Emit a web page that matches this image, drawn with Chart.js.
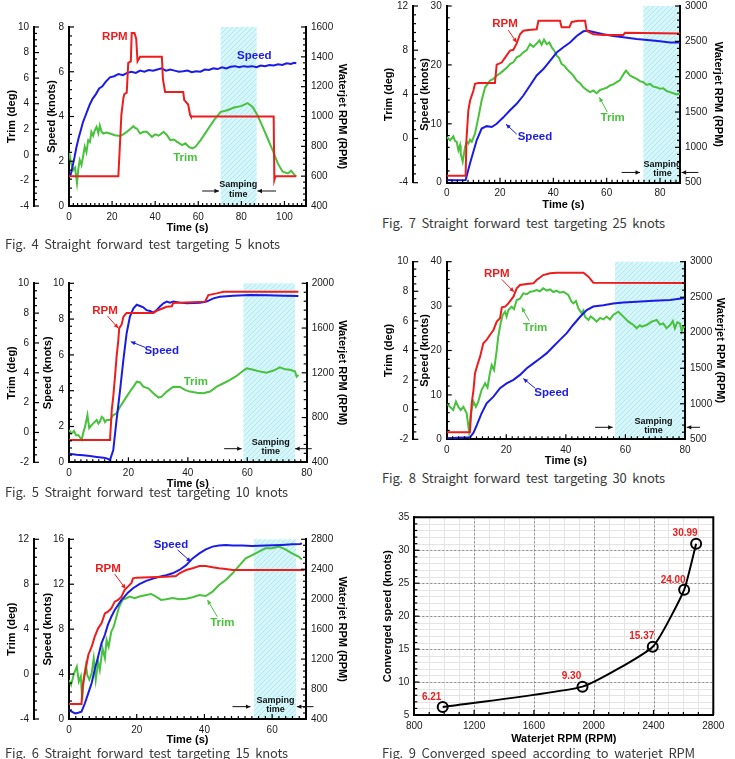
<!DOCTYPE html>
<html>
<head>
<meta charset="utf-8">
<script src="https://cdn.jsdelivr.net/npm/chart.js@4.4.1/dist/chart.umd.min.js"></script>
<style>
  body { margin: 0; background: #fff; width: 735px; height: 759px; overflow: hidden; position: relative; }
  canvas { position: absolute; }
  .cap { position: absolute; font-family: "Noto Sans CJK KR", "Noto Sans", sans-serif; font-size: 13px; color: #3a3a3a;
         white-space: nowrap; line-height: 16px; word-spacing: 3px; }
</style>
</head>
<body>
<script>
// ---------- data: [time (s), value] ----------
// Fig. 4  (target 5 knots)
const fig4Rpm = [[0,600],[22.9,600],[23.6,800],[24.3,1010],[25.3,1130],[25.7,1150],[26.8,1160],[27.5,1360],[28.7,1370],[29.1,1560],[30.4,1560],[31.2,1520],[31.8,1370],[33.0,1400],[43.1,1400],[43.6,1250],[44.6,1165],[53.0,1165],[53.5,1110],[55.3,1080],[56.2,1010],[56.6,1000],[95.0,1000],[95.3,575],[95.8,600],[105.5,600]];
const fig4Speed = [[0,1.3],[0.8,1.4],[1.6,1.75],[2.5,2.15],[3.4,2.6],[4.5,3.05],[5.5,3.4],[6.5,3.75],[7.5,4.0],[8.5,4.25],[9.7,4.55],[11,4.8],[12.5,5.0],[14,5.25],[15.5,5.35],[17,5.55],[19,5.75],[21,5.8],[23,5.9],[25,5.85],[27,5.95],[29,6.0],[31,5.95],[33,6.05],[35,6.0],[37,6.08],[39,6.05],[41,6.1],[43,6.15],[45,6.05],[47,6.1],[49,6.05],[51,6.0],[53,6.02],[55,6.05],[57,5.98],[59,6.02],[61,6.0],[63,6.1],[65,6.08],[67,6.15],[69,6.12],[71,6.2],[73,6.15],[75,6.22],[77,6.25],[79,6.2],[81,6.25],[83,6.22],[85,6.25],[87,6.2],[89,6.28],[91,6.25],[93,6.3],[95,6.28],[97,6.33],[99,6.3],[101,6.38],[103,6.35],[104.5,6.4],[105.5,6.38]];
const fig4Trim = [[0,0.24],[0.9,-0.6],[1.9,-1.2],[2.8,-1.0],[3.7,-2.2],[4.4,-1.0],[5.0,-0.4],[5.8,-0.8],[6.5,-0.15],[7.3,0.63],[8.1,0.2],[8.9,1.15],[9.7,1.0],[10.4,1.8],[11.2,1.5],[12.0,1.93],[12.8,2.19],[13.6,1.7],[14.3,2.3],[15.1,1.8],[15.9,1.67],[17.4,1.75],[19.0,1.67],[21.3,1.54],[23.7,1.47],[25.2,1.6],[26.8,1.8],[28.3,2.0],[29.9,2.24],[30.7,2.1],[31.5,2.06],[33.0,1.67],[34.6,1.8],[36.1,1.8],[38.5,1.41],[40.0,1.6],[41.6,1.5],[43.9,1.8],[45.5,1.54],[47.0,1.15],[48.6,1.2],[50.2,1.02],[52.5,0.76],[54.0,0.9],[55.6,0.63],[57.2,0.5],[58.7,0.63],[61.1,1.15],[64.2,1.93],[67.3,2.71],[70.4,3.36],[73.5,3.49],[76.6,3.7],[79.8,3.81],[82.9,4.05],[85.2,3.75],[87.5,3.1],[89.9,2.19],[92.2,1.28],[94.5,0.37],[96.9,-0.67],[99.2,-1.32],[101.6,-1.45],[103.1,-1.24],[104.7,-1.58],[105.5,-1.66]];

// Fig. 7  (target 25 knots)
const fig7Rpm = [[0,600],[7.1,600],[7.4,1100],[8.1,1520],[8.75,1660],[10,1800],[10.6,1900],[11.9,1910],[18.1,1910],[18.75,2170],[20.6,2200],[21.9,2270],[23.75,2370],[25,2380],[26.25,2470],[27.5,2600],[28.75,2650],[30.6,2660],[33.75,2670],[34.4,2790],[42.5,2790],[43.1,2700],[46,2700],[46.9,2775],[49.4,2790],[51.9,2790],[52.5,2650],[55,2600],[58.75,2590],[66.25,2590],[66.9,2620],[87.5,2610]];
const fig7Speed = [[0,0.45],[3,0.4],[7.1,0.45],[8.75,3.3],[11.25,7.2],[13.1,9.2],[15,9.6],[16.9,9.45],[18.75,10.0],[21.25,11.1],[23.75,12.3],[26.25,13.4],[28.75,14.8],[31.25,16.5],[33.75,18.2],[36.25,19.3],[38.75,20.7],[41.25,22.1],[43.75,23.0],[46.25,23.8],[48.75,24.9],[51.25,25.7],[53.1,25.8],[55,25.6],[58.75,25.2],[62.5,24.9],[66.25,24.7],[71.25,24.4],[76.25,24.2],[80,24.0],[83.75,23.8],[87.5,23.8]];
const fig7Trim = [[0,0.14],[1.25,-0.16],[2.5,0.2],[3.1,-0.2],[3.75,-0.3],[4.4,-1.06],[5,-0.6],[5.25,-1.36],[6,-2.1],[6.9,-0.76],[7.5,-0.3],[8.1,-0.46],[8.75,-0.1],[9.4,-0.3],[10.6,0.44],[11.9,1.94],[13.1,3.44],[14.4,4.64],[15.25,4.9],[16.25,5.25],[17.5,5.4],[18.75,5.7],[20,5.9],[21.25,6.15],[22.5,6.4],[23.75,6.75],[25,6.9],[26.25,7.35],[27.5,7.5],[28.75,7.8],[30,8.0],[31.25,8.55],[32.5,8.3],[33.75,8.6],[34.75,8.9],[35.6,8.5],[36.5,8.95],[37.5,8.55],[38.5,8.7],[39.4,8.25],[40.25,8.0],[41.25,7.5],[42.1,7.3],[43.1,6.75],[44.1,6.6],[45,6.3],[46.25,6.0],[47.5,5.7],[48.75,5.25],[50,5.0],[51.25,4.64],[52.5,4.4],[53.75,4.2],[55,4.35],[56.25,4.1],[57.5,4.4],[58.75,4.5],[60,4.6],[61.25,4.8],[62.5,4.9],[63.75,5.1],[65,5.3],[65.6,5.55],[66.5,5.9],[67.25,6.15],[68.1,5.9],[68.75,5.7],[70,5.55],[71.25,5.4],[72.5,5.2],[73.75,5.1],[75,4.85],[76.25,4.95],[77.5,4.7],[78.75,4.64],[80,4.5],[81.25,4.55],[82.5,4.3],[83.75,4.2],[85,4.1],[86.25,4.0],[87.5,4.05]];

// Fig. 5  (target 10 knots)
const fig5Rpm = [[0,600],[13.8,600],[14.4,870],[14.9,990],[15.5,1170],[16.0,1340],[16.6,1490],[16.9,1600],[17.7,1630],[18.3,1700],[18.85,1720],[19.4,1735],[28.4,1735],[29.5,1755],[32.9,1790],[34.6,1795],[35.1,1825],[45.8,1836],[46.9,1895],[49.7,1910],[52.0,1925],[77.2,1925]];
const fig5Speed = [[0,0.48],[2.6,0.42],[4.8,0.4],[7.1,0.35],[9.3,0.3],[11.6,0.25],[12.7,0.22],[13.8,0.13],[14.9,0.69],[16.0,2.36],[17.2,4.04],[18.3,5.72],[19.4,7.21],[20.5,8.14],[21.7,8.6],[22.8,8.8],[23.9,8.73],[25.0,8.66],[26.1,8.5],[27.3,8.45],[28.4,8.36],[29.5,8.5],[30.6,8.7],[31.8,8.88],[32.9,8.98],[34.0,8.92],[35.1,8.98],[37.4,8.92],[39.6,8.88],[41.9,8.9],[44.1,8.92],[46.3,8.98],[48.6,9.16],[50.8,9.25],[55.3,9.31],[60.9,9.35],[66.5,9.33],[72.1,9.31],[77.2,9.29]];
const fig5Trim = [[0,0.17],[0.9,-0.06],[1.7,0.1],[2.4,-0.2],[3.1,-0.17],[4.3,-0.5],[4.8,0.0],[5.4,0.39],[6.2,1.17],[6.8,0.3],[7.6,0.5],[8.2,0.61],[9.3,0.84],[9.9,0.6],[10.4,0.73],[11.0,1.05],[11.6,0.95],[12.1,0.7],[12.7,0.84],[13.8,0.84],[14.9,1.17],[16.0,1.28],[17.2,1.73],[18.3,2.07],[19.4,2.4],[20.5,2.74],[21.7,3.07],[22.8,3.4],[23.9,3.35],[25.0,3.07],[26.7,2.96],[28.4,2.63],[30.1,2.34],[31.2,2.4],[32.9,2.74],[35.1,3.07],[37.4,3.05],[39.0,2.85],[40.7,2.74],[43.0,2.67],[45.2,2.63],[47.5,2.74],[49.7,3.07],[52.0,3.3],[54.2,3.52],[56.4,3.79],[58.7,4.15],[59.8,4.3],[62.0,4.2],[64.3,4.08],[66.5,4.01],[68.8,4.15],[71.0,4.37],[72.7,4.23],[74.4,4.2],[76.1,4.08],[76.6,3.74],[77.2,3.85]];

// Fig. 8  (target 30 knots)
const fig8Rpm = [[0,600],[7.8,600],[8.4,1007],[9.0,1194],[9.5,1429],[10.3,1546],[11.2,1663],[12.3,1851],[13.4,1898],[14.5,1968],[15.7,2039],[16.8,2156],[17.9,2203],[18.5,2357],[19.6,2367],[20.7,2414],[22.4,2508],[23.5,2625],[24.6,2672],[26.9,2686],[29.1,2695],[30.2,2742],[32.4,2812],[34.7,2836],[36.9,2845],[45.9,2845],[47.6,2789],[49.2,2705],[80,2700]];
const fig8Speed = [[0,0.23],[7.8,0.45],[9.0,1.5],[10.1,3.2],[11.7,5.85],[13.4,8.1],[15.7,9.6],[17.9,11.5],[20.1,12.6],[22.4,13.4],[24.6,14.5],[26.9,16.0],[29.1,17.1],[31.3,18.2],[33.6,19.4],[35.8,20.9],[38.0,22.4],[40.3,23.9],[42.5,25.8],[44.8,27.6],[47.0,29.1],[49.2,29.9],[52.6,30.2],[55.9,30.6],[59.3,30.8],[63.8,31.0],[69.4,31.2],[75.0,31.4],[80,31.8]];
const fig8Trim = [[0,0.43],[1.1,0.2],[2.2,-0.02],[3.1,0.55],[3.9,0.2],[4.7,-0.02],[5.6,0.2],[6.7,-0.24],[7.5,-1.48],[8.1,-0.24],[9.0,0.55],[9.8,0.2],[10.6,0.55],[11.7,1.33],[12.9,1.78],[13.7,1.5],[14.5,2.46],[15.1,3.02],[15.9,2.68],[16.8,4.03],[17.3,4.93],[18.1,5.84],[18.8,6.4],[19.6,6.62],[20.1,6.3],[20.7,6.74],[21.8,6.96],[22.6,6.8],[23.5,7.41],[24.6,7.5],[25.7,7.86],[26.9,7.8],[28.0,7.97],[29.1,8.0],[30.2,8.09],[31.3,8.0],[32.4,8.2],[33.6,8.05],[34.7,8.13],[35.8,7.95],[36.9,8.04],[38.0,7.9],[39.2,7.97],[40.8,7.75],[41.9,7.3],[42.5,7.19],[43.4,7.35],[44.2,6.85],[45.3,6.51],[45.9,6.7],[46.4,6.29],[47.6,6.06],[48.3,6.3],[49.2,6.17],[50.3,5.95],[51.5,6.2],[52.6,6.1],[53.7,6.29],[54.8,6.1],[55.9,6.4],[57.6,6.62],[59.3,6.29],[61.0,5.95],[62.7,5.72],[63.8,5.5],[64.8,5.7],[65.5,5.61],[67.1,5.72],[68.8,5.95],[70.5,6.06],[71.6,5.75],[72.7,5.83],[73.8,5.5],[75.0,5.72],[75.9,6.0],[76.6,5.5],[77.4,5.9],[78.3,5.83],[78.9,5.3],[79.4,5.6],[80,5.6]];

// Fig. 6  (target 15 knots)
const fig6Rpm = [[0,600],[3.7,600],[4.0,832],[4.7,1010],[5.7,1255],[6.7,1366],[7.6,1500],[8.6,1611],[9.6,1678],[10.6,1811],[11.5,1834],[12.5,1878],[13.5,1967],[14.5,1990],[15.5,2034],[16.4,2123],[17.4,2168],[18.4,2212],[18.9,2279],[19.9,2288],[23.8,2292],[28.7,2301],[31.6,2310],[32.6,2346],[34.6,2390],[36.5,2413],[38.5,2444],[40.4,2444],[42.4,2426],[44.3,2413],[46.3,2404],[48.3,2390],[69.6,2390]];
const fig6Speed = [[0,0.8],[0.8,0.65],[1.8,0.5],[2.7,0.55],[3.7,0.65],[4.7,1.4],[5.7,2.3],[6.7,3.2],[7.6,4.4],[8.6,5.55],[9.6,6.74],[10.6,7.5],[11.5,8.4],[12.5,9.1],[13.5,9.7],[14.5,10.15],[15.5,10.6],[16.4,10.9],[17.4,11.25],[18.9,11.64],[20.8,12.0],[22.8,12.3],[24.8,12.5],[26.7,12.67],[28.7,12.8],[30.6,12.97],[32.6,13.27],[34.6,13.7],[36.5,14.3],[38.5,14.75],[40.4,15.1],[42.4,15.35],[44.3,15.44],[46.3,15.5],[48.3,15.44],[51.2,15.45],[54.1,15.4],[58.0,15.44],[62.9,15.5],[65.9,15.55],[68.3,15.58],[68.8,15.64]];
const fig6Trim = [[0,-0.53],[0.6,-0.97],[1.5,0.07],[2.3,0.66],[2.9,-0.67],[3.5,-0.2],[3.9,-2.3],[4.4,-0.23],[5.0,0.81],[5.4,-0.1],[6.0,-0.5],[6.7,0.07],[7.3,1.4],[7.9,-0.53],[8.6,1.1],[9.1,0.36],[9.9,2.29],[10.6,1.4],[11.1,3.04],[11.7,2.44],[12.5,3.78],[13.2,4.22],[14.0,5.11],[14.8,6.0],[15.8,6.6],[16.9,6.75],[17.9,6.9],[19.4,6.75],[20.8,6.9],[22.8,7.04],[24.3,7.13],[25.7,6.9],[27.2,6.6],[28.7,6.66],[30.6,6.78],[32.6,6.66],[34.6,6.7],[36.5,6.84],[38.5,7.04],[40.4,6.95],[42.4,7.34],[44.3,7.93],[46.3,8.38],[48.3,8.97],[50.2,9.63],[52.2,10.3],[54.1,10.6],[56.1,10.9],[58.0,11.2],[60.0,11.2],[62.0,11.35],[63.9,11.1],[65.9,10.75],[67.8,10.46],[68.8,10.2]];

// Fig. 9  converged speed vs waterjet RPM
const fig9Rpm = [990, 1925, 2395, 2605, 2685];
const fig9Speed = [6.21, 9.30, 15.37, 24.00, 30.99];

// ---------- styling ----------
const RED = '#ee1d1d', BLUE = '#1b1be8', GREEN = '#48c23c';
const FONT = '"Liberation Sans", Arial, sans-serif';
const HALF_LH = 6.6; // half line height of an 11px title

const decoMap = {};

function hatchPattern(ctx) {
  const c = document.createElement('canvas');
  c.width = 5; c.height = 5;
  const g = c.getContext('2d');
  g.fillStyle = '#d6f6fa';
  g.fillRect(0, 0, 5, 5);
  g.strokeStyle = '#aee9f1';
  g.lineWidth = 1;
  g.beginPath();
  g.moveTo(-1, 6); g.lineTo(6, -1);
  g.stroke();
  return ctx.createPattern(c, 'repeat');
}

function arrow(ctx, x1, y1, x2, y2, color) {
  const a = Math.atan2(y2 - y1, x2 - x1), h = 5;
  ctx.strokeStyle = color; ctx.fillStyle = color; ctx.lineWidth = 1;
  ctx.beginPath(); ctx.moveTo(x1, y1); ctx.lineTo(x2, y2); ctx.stroke();
  ctx.beginPath();
  ctx.moveTo(x2, y2);
  ctx.lineTo(x2 - h * Math.cos(a - 0.45), y2 - h * Math.sin(a - 0.45));
  ctx.lineTo(x2 - h * Math.cos(a + 0.45), y2 - h * Math.sin(a + 0.45));
  ctx.closePath(); ctx.fill();
}

function stepLines(chart, id, step, cb) {
  const s = chart.scales[id];
  const n = Math.floor((s.max - s.min) / step + 1e-6);
  for (let i = 0; i <= n; i++) cb(s, s.min + i * step, s.getPixelForValue(s.min + i * step));
}

const deco = {
  id: 'deco',
  beforeDraw(chart) {
    const o = decoMap[chart.canvas.id];
    if (!o) return;
    const { ctx, chartArea: a, scales } = chart;
    ctx.save();
    if (o.band) {
      const x1 = scales.x.getPixelForValue(o.band[0]);
      const x2 = scales.x.getPixelForValue(o.band[1]);
      ctx.fillStyle = hatchPattern(ctx);
      ctx.fillRect(x1, a.top, x2 - x1, a.bottom - a.top);
    }
    // grid for fig 9: light minor lines, then dashed major lines
    (o.grid || []).forEach(([id, step, color, dash]) => {
      ctx.strokeStyle = color; ctx.lineWidth = 1; ctx.setLineDash(dash);
      stepLines(chart, id, step, (s, v, p) => {
        p = Math.round(p) + 0.5;
        ctx.beginPath();
        if (s.isHorizontal()) { ctx.moveTo(p, a.top); ctx.lineTo(p, a.bottom); }
        else { ctx.moveTo(a.left, p); ctx.lineTo(a.right, p); }
        ctx.stroke();
      });
    });
    ctx.restore();
  },
  afterDatasetsDraw(chart) {
    const o = decoMap[chart.canvas.id];
    if (!o) return;
    const { ctx, scales } = chart;
    const X = v => scales.x.getPixelForValue(v);
    const Y = v => scales.y.getPixelForValue(v);
    ctx.save();
    ctx.textAlign = 'center'; ctx.textBaseline = 'middle';
    (o.arrows || []).forEach(([x1, y1, x2, y2, c]) => arrow(ctx, X(x1), Y(y1), X(x2), Y(y2), c));
    ctx.font = 'bold 11.5px ' + FONT;
    (o.labels || []).forEach(([txt, x, y, c]) => { ctx.fillStyle = c; ctx.fillText(txt, X(x), Y(y)); });
    if (o.sampling) {
      const sp = o.sampling;
      ctx.fillStyle = '#111';
      ctx.font = 'bold 9px ' + FONT;
      ctx.fillText('Samping', X(sp.x), Y(sp.y1));
      ctx.fillText('time', X(sp.x), Y(sp.y2));
      arrow(ctx, X(sp.a1[0]), Y(sp.ay), X(sp.a1[1]), Y(sp.ay), '#111');
      arrow(ctx, X(sp.a2[0]), Y(sp.ay), X(sp.a2[1]), Y(sp.ay), '#111');
    }
    if (o.pointLabels) {
      ctx.fillStyle = RED;
      ctx.font = 'bold 10px ' + FONT;
      chart.getDatasetMeta(0).data.forEach((pt, i) => {
        ctx.fillText(o.pointLabels[i].toFixed(2), pt.x - 11, pt.y - 10);
      });
    }
    ctx.restore();
  },
  afterDraw(chart) {
    const o = decoMap[chart.canvas.id];
    if (!o) return;
    const { ctx, chartArea: a } = chart;
    ctx.save();
    ctx.strokeStyle = '#000'; ctx.lineWidth = 1.2;
    // inward major / minor ticks
    (o.ticks || []).forEach(([id, major, minor]) => {
      stepLines(chart, id, minor, (s, v, p) => {
        const r = v / major;
        const len = Math.abs(r - Math.round(r)) < 1e-6 ? 5 : 3;
        const pos = s.options.position;
        ctx.beginPath();
        if (pos === 'bottom') { ctx.moveTo(p, s.top); ctx.lineTo(p, s.top - len); }
        else if (pos === 'left') { ctx.moveTo(s.right, p); ctx.lineTo(s.right + len, p); }
        else { ctx.moveTo(s.left, p); ctx.lineTo(s.left - len, p); }
        ctx.stroke();
      });
    });
    if (o.frame) {
      ctx.lineWidth = 2;
      ctx.beginPath();
      ctx.moveTo(a.left, a.top); ctx.lineTo(a.right, a.top); ctx.lineTo(a.right, a.bottom);
      ctx.stroke();
    }
    ctx.restore();
  }
};
Chart.register(deco);

function addCanvas(id, lay) {
  const cv = document.createElement('canvas');
  cv.id = id;
  cv.width = lay.w; cv.height = lay.h;
  cv.style.left = lay.left + 'px';
  cv.style.top = lay.top + 'px';
  document.body.appendChild(cv);
  return cv;
}

function ticksOf(step) {
  return { stepSize: step, includeBounds: false, color: '#1a1a1a', padding: 5,
           font: { family: FONT, size: 10 }, callback: v => String(v) };
}

function titleOf(text, pad) {
  return { display: true, text, color: '#000', font: { family: FONT, size: 11, weight: 'bold' },
           padding: { top: pad, bottom: pad } };
}

const noGrid = { display: false, drawTicks: false };
const edge = { display: true, color: '#000', width: 2 };

function series(points, color, axis) {
  return { data: points.map(([x, y]) => ({ x, y })), borderColor: color, borderWidth: 2,
           pointRadius: 0, tension: 0, fill: false, yAxisID: axis };
}

// a time history panel: outer trim axis, inner speed axis, right RPM axis
function timePanel(id, lay, sc, rpm, speed, trim, o) {
  const cv = addCanvas(id, lay);
  const [L, T, R, B] = lay.area;
  decoMap[id] = Object.assign({
    ticks: [['x', sc.x[1], sc.x[2]], ['y', sc.y[2], sc.y[3]], ['trim', sc.trim[2], sc.trim[3]], ['rpm', sc.rpm[2], sc.rpm[3]]]
  }, o);
  new Chart(cv, {
    type: 'line',
    data: { datasets: [series(rpm, RED, 'rpm'), series(speed, BLUE, 'y'), series(trim, GREEN, 'trim')] },
    options: {
      responsive: false, animation: false, events: [],
      layout: { padding: { top: T - lay.top, left: 0, right: 0, bottom: 0 } },
      plugins: { legend: { display: false }, tooltip: { enabled: false } },
      scales: {
        x: { type: 'linear', position: 'bottom', min: 0, max: sc.x[0], ticks: ticksOf(sc.x[1]),
             grid: noGrid, border: edge,
             title: titleOf('Time (s)', Math.max(0, lay.top + lay.h - lay.xTitleY - HALF_LH)),
             afterFit: s => { s.height = lay.top + lay.h - B; } },
        y: { type: 'linear', position: 'left', weight: 0, min: sc.y[0], max: sc.y[1], ticks: ticksOf(sc.y[2]),
             grid: noGrid, border: edge,
             title: titleOf('Speed (knots)', lay.tx[1] - lay.trimAt - HALF_LH),
             afterFit: s => { s.width = L - lay.trimAt; } },
        trim: { type: 'linear', position: 'left', weight: 1, min: sc.trim[0], max: sc.trim[1], ticks: ticksOf(sc.trim[2]),
             grid: noGrid, border: edge,
             title: titleOf('Trim (deg)', lay.tx[0] - lay.left - HALF_LH),
             afterFit: s => { s.width = lay.trimAt - lay.left; } },
        rpm: { type: 'linear', position: 'right', min: sc.rpm[0], max: sc.rpm[1], ticks: ticksOf(sc.rpm[2]),
             grid: noGrid, border: edge,
             title: titleOf('Waterjet RPM (RPM)', lay.left + lay.w - lay.tx[2] - HALF_LH),
             afterFit: s => { s.width = lay.left + lay.w - R; } }
      }
    }
  });
}

function caption(text, left, centerY, width) {
  const d = document.createElement('div');
  d.className = 'cap';
  d.textContent = text;
  d.style.left = left + 'px';
  d.style.top = (centerY - 8) + 'px';
  document.body.appendChild(d);
  const w = d.getBoundingClientRect().width;
  d.style.letterSpacing = ((width - w) / text.length) + 'px';
}

// ---------- panels ----------
timePanel('fig4',
  { left: 0, top: 15, w: 360, h: 220, area: [69, 27, 306, 206], trimAt: 34, tx: [11.7, 51.7, 341.7], xTitleY: 228.3 },
  { x: [110, 20, 2], y: [0, 8, 2, 0.4], trim: [-4, 10, 2, 0.5], rpm: [400, 1600, 200, 40] },
  fig4Rpm, fig4Speed, fig4Trim,
  { band: [70.4, 87.1],
    labels: [['RPM', 21.3, 7.55, RED], ['Speed', 86, 6.69, BLUE], ['Trim', 54, 2.17, GREEN]],
    sampling: { x: 78.5, y1: 0.94, y2: 0.52, ay: 0.67, a1: [61.8, 69.6], a2: [96.1, 87.5] } });

timePanel('fig7',
  { left: 370, top: -5, w: 365, h: 217, area: [446.7, 5, 680, 182.7], trimAt: 413, tx: [389, 425, 718.3], xTitleY: 205 },
  { x: [87.5, 20, 2], y: [0, 30, 10, 2], trim: [-4, 12, 4, 0.8], rpm: [500, 3000, 500, 100] },
  fig7Rpm, fig7Speed, fig7Trim,
  { band: [73.75, 87.5],
    labels: [['RPM', 21.9, 27.0, RED], ['Speed', 33.1, 7.77, BLUE], ['Trim', 62.25, 11.0, GREEN]],
    arrows: [[23.1, 25.9, 26.25, 23.8, RED], [26.25, 8.24, 22.25, 9.93, BLUE], [60.25, 12.0, 57.25, 14.5, GREEN]],
    sampling: { x: 80.9, y1: 3.1, y2: 1.52, ay: 1.74, a1: [65.6, 72.5], a2: [94.4, 88.1] } });

timePanel('fig5',
  { left: 0, top: 270, w: 360, h: 221, area: [69, 283.3, 306.7, 462.3], trimAt: 34, tx: [11.7, 47.7, 341.7], xTitleY: 484.3 },
  { x: [80, 20, 2], y: [0, 10, 2, 0.4], trim: [-2, 10, 2, 0.5], rpm: [400, 2000, 400, 80] },
  fig5Rpm, fig5Speed, fig5Trim,
  { band: [58.7, 76.1],
    labels: [['RPM', 12.1, 8.47, RED], ['Speed', 31.2, 6.24, BLUE], ['Trim', 42.7, 4.47, GREEN]],
    arrows: [[12.9, 8.18, 16.6, 7.49, RED], [25.6, 6.42, 20.8, 6.74, BLUE]],
    sampling: { x: 67.9, y1: 1.1, y2: 0.58, ay: 0.76, a1: [52.2, 58.1], a2: [81.7, 76.1] } });

timePanel('fig8',
  { left: 370, top: 250, w: 365, h: 218, area: [446.7, 261.7, 685, 439.3], trimAt: 413.3, tx: [389, 425, 720], xTitleY: 461 },
  { x: [80, 20, 2], y: [0, 40, 10, 2], trim: [-2, 10, 2, 0.5], rpm: [500, 3000, 500, 100] },
  fig8Rpm, fig8Speed, fig8Trim,
  { band: [56.5, 80],
    labels: [['RPM', 16.8, 37.2, RED], ['Trim', 29.7, 25.2, GREEN], ['Speed', 35.2, 10.4, BLUE]],
    arrows: [[18.5, 36.0, 22.6, 33.2, RED], [27.7, 26.7, 25.2, 29.7, GREEN], [29.7, 11.5, 25.7, 13.7, BLUE]],
    sampling: { x: 69.4, y1: 3.98, y2: 1.88, ay: 2.7, a1: [49.8, 55.7], a2: [85.0, 80.6] } });

timePanel('fig6',
  { left: 0, top: 525, w: 360, h: 222, area: [69, 539.3, 306, 719], trimAt: 34, tx: [11.7, 47.7, 341.7], xTitleY: 740 },
  { x: [70, 20, 2], y: [0, 16, 4, 0.8], trim: [-4, 12, 4, 0.8], rpm: [400, 2800, 400, 80] },
  fig6Rpm, fig6Speed, fig6Trim,
  { band: [54.6, 67.1],
    labels: [['Speed', 30.1, 15.5, BLUE], ['RPM', 11.5, 13.4, RED], ['Trim', 45.3, 8.58, GREEN]],
    arrows: [[32.1, 15.05, 36.0, 14.0, BLUE], [13.5, 12.9, 16.7, 11.6, RED], [43.8, 9.1, 40.9, 10.6, GREEN]],
    sampling: { x: 61.0, y1: 1.63, y2: 0.8, ay: 1.1, a1: [48.3, 53.6], a2: [72.2, 67.3] } });

// Fig. 9
(function () {
  const lay = { left: 370, top: 505, w: 365, h: 241, area: [414.3, 517.3, 713.3, 715], ty: 388.3, xTitleY: 739.3 };
  const cv = addCanvas('fig9', lay);
  const [L, T, R, B] = lay.area;
  decoMap.fig9 = {
    grid: [['x', 100, '#e4e4e4', []], ['y', 1, '#e4e4e4', []], ['x', 400, '#8c8c8c', [2, 2]], ['y', 5, '#8c8c8c', [2, 2]]],
    ticks: [['x', 400, 100], ['y', 5, 1]],
    frame: true,
    pointLabels: fig9Speed
  };
  new Chart(cv, {
    type: 'line',
    data: { datasets: [{
      data: fig9Rpm.map((x, i) => ({ x, y: fig9Speed[i] })),
      borderColor: '#000', borderWidth: 2, tension: 0.15, fill: false,
      pointRadius: 5, pointBorderWidth: 2, pointBorderColor: '#000', pointBackgroundColor: 'rgba(0,0,0,0)'
    }] },
    options: {
      responsive: false, animation: false, events: [],
      layout: { padding: { top: T - lay.top, left: 0, right: lay.left + lay.w - R, bottom: 0 } },
      plugins: { legend: { display: false }, tooltip: { enabled: false } },
      scales: {
        x: { type: 'linear', position: 'bottom', min: 800, max: 2800, ticks: ticksOf(400),
             grid: noGrid, border: edge,
             title: titleOf('Waterjet RPM (RPM)', Math.max(0, lay.top + lay.h - lay.xTitleY - HALF_LH)),
             afterFit: s => { s.height = lay.top + lay.h - B; } },
        y: { type: 'linear', position: 'left', min: 5, max: 35, ticks: ticksOf(5),
             grid: noGrid, border: edge,
             title: titleOf('Converged speed (knots)', lay.ty - lay.left - HALF_LH),
             afterFit: s => { s.width = L - lay.left; } }
      }
    }
  });
})();

caption('Fig. 4 Straight forward test targeting 5 knots', 5, 244, 275);
caption('Fig. 7 Straight forward test targeting 25 knots', 382, 223, 283);
caption('Fig. 5 Straight forward test targeting 10 knots', 5, 492, 283);
caption('Fig. 8 Straight forward test targeting 30 knots', 382, 478, 283);
caption('Fig. 6 Straight forward test targeting 15 knots', 5, 753, 283);
caption('Fig. 9 Converged speed according to waterjet RPM', 382, 753, 313);
</script>
</body>
</html>
